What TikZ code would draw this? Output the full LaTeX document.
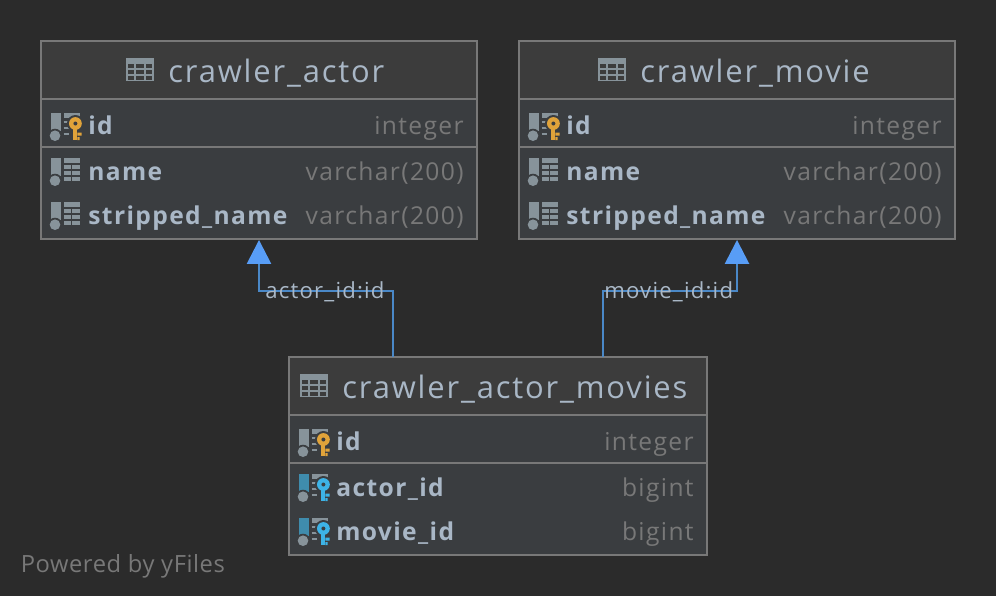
\documentclass[tikz,border=0pt]{standalone}
\usepackage{fontspec}
\setmainfont{Open Sans}
\usepackage{xcolor}
\usetikzlibrary{arrows.meta}
\definecolor{canvasbg}{HTML}{2B2B2B}
\definecolor{headfill}{HTML}{3C3C3C}
\definecolor{rowfill}{HTML}{3A3D40}
\definecolor{edgegray}{HTML}{787878}
\definecolor{textblue}{HTML}{A9B7C6}
\definecolor{typegray}{HTML}{787878}
\definecolor{icongray}{HTML}{87939A}
\definecolor{barblue}{HTML}{3F8CAD}
\definecolor{keyorange}{HTML}{E0A33A}
\definecolor{keycyan}{HTML}{3DB3E6}
\definecolor{linkblue}{HTML}{4A88C7}
\definecolor{tipblue}{HTML}{589DF6}
\tikzset{
    tablebox/.style = {draw = edgegray, fill = rowfill, line width = 1.1pt, minimum height = 3.96cm, inner sep = 0pt},
    rule/.style = {draw = edgegray, line width = 1.1pt},
    titletext/.style = {text = textblue, font = \fontsize{17.6}{20}\selectfont\addfontfeature{LetterSpace = 6}, anchor = base west, inner sep = 0pt},
    nametext/.style = {text = textblue, font = \bfseries\fontsize{14}{16}\selectfont\addfontfeature{LetterSpace = 5.6}, anchor = base west, inner sep = 0pt},
    typetext/.style = {text = typegray, font = \fontsize{14}{16}\selectfont\addfontfeature{LetterSpace = 5.6}, anchor = base east, inner sep = 0pt},
    linktext/.style = {text = textblue, font = \fontsize{12.6}{15}\selectfont\addfontfeature{LetterSpace = 5.4}, anchor = base west, inner sep = 0pt},
    credittext/.style = {text = typegray, font = \fontsize{13.5}{16}\selectfont\addfontfeature{LetterSpace = 2.4}, anchor = base west, inner sep = 0pt},
    fkline/.style = {draw = linkblue, line width = 1.5pt, -{Triangle[length = 13.6pt, width = 13.6pt, color = tipblue]}},
    pics/headicon/.style = {code = {
        \fill[icongray] (0,0) rectangle (28,23);
        \foreach \cx/\cw in {2/6, 10.3/7.7, 20/6.3}
            \foreach \cy/\ch in {6.3/3.4, 12/3.7, 18/3.7}
                \fill[headfill] (\cx,\cy) rectangle ++(\cw,\ch);
    }},
    pics/colicon/.style = {code = {
        \fill[#1] (-0.7,0) rectangle (9,18);
        \fill[rowfill] (3,22.7) circle (7);
        \fill[icongray] (3,22.7) circle (5.3);
        \fill[icongray] (11.7,0) rectangle (27.5,23);
        \draw[rowfill, line width = 0.85pt] (11.7,6) -- (27.5,6) (11.7,12) -- (27.5,12) (11.7,18) -- (27.5,18);
        \draw[rowfill, line width = 0.85pt] (19.5,6) -- (19.5,23);
    }},
    pics/keyicon/.style 2 args = {code = {
        \fill[#1] (-0.7,0) rectangle (9,18);
        \fill[rowfill] (3,22.7) circle (7);
        \fill[icongray] (3,22.7) circle (5.3);
        \fill[icongray] (11.7,0) rectangle (27.5,5);
        \draw[icongray, line width = 0.85pt] (11.7,9) -- (17,9) (11.7,15) -- (17,15) (11.7,21) -- (17,21);
        \fill[rowfill] (23.4,10.5) circle (8.5);
        \fill[rowfill] (19.5,14) rectangle (31,28);
        \fill[#2] (23.4,10.5) circle (6.4);
        \fill[#2] (21.4,14) rectangle (25.4,27);
        \fill[#2] (25.4,19.5) rectangle (29.7,22.5) (25.4,24) rectangle (27.7,27);
        \fill[rowfill] (23.4,10.5) circle (2);
    }}
}
\begin{document}
\begin{tikzpicture}[x = 0.02cm, y = -0.02cm]
        \useasboundingbox (0,0) rectangle (996,596);
        \fill[canvasbg] (0,0) rectangle (996,596);

        % crawler_actor
        \node[tablebox, minimum width = 8.72cm] (actor) at (259,140) {};
        \fill[headfill] (42,42) rectangle (476,99);
        \draw[rule] (41,99) -- (477,99);
        \draw[rule] (41,147) -- (477,147);
        \pic at (126,58) {headicon};
        \node[titletext] (actortitle) at (168,82) {crawler\_actor};
        \pic at (52,113) {keyicon = {icongray}{keyorange}};
        \node[nametext] (actorid) at (88,134) {id};
        \node[typetext] (actoridtype) at (464,134) {integer};
        \pic at (52,158) {colicon = icongray};
        \node[nametext] (actorname) at (88,180) {name};
        \node[typetext] (actornametype) at (464,180) {varchar(200)};
        \pic at (52,202) {colicon = icongray};
        \node[nametext] (actorstripped) at (88,224) {stripped\_name};
        \node[typetext] (actorstrippedtype) at (464,224) {varchar(200)};

        % crawler_movie
        \node[tablebox, minimum width = 8.72cm] (movie) at (737,140) {};
        \fill[headfill] (520,42) rectangle (954,99);
        \draw[rule] (519,99) -- (955,99);
        \draw[rule] (519,147) -- (955,147);
        \pic at (598,58) {headicon};
        \node[titletext] (movietitle) at (640,82) {crawler\_movie};
        \pic at (530,113) {keyicon = {icongray}{keyorange}};
        \node[nametext] (movieid) at (566,134) {id};
        \node[typetext] (movieidtype) at (942,134) {integer};
        \pic at (530,158) {colicon = icongray};
        \node[nametext] (moviename) at (566,180) {name};
        \node[typetext] (movienametype) at (942,180) {varchar(200)};
        \pic at (530,202) {colicon = icongray};
        \node[nametext] (moviestripped) at (566,224) {stripped\_name};
        \node[typetext] (moviestrippedtype) at (942,224) {varchar(200)};

        % crawler_actor_movies
        \node[tablebox, minimum width = 8.36cm] (link) at (498,456) {};
        \fill[headfill] (290,358) rectangle (706,414);
        \draw[rule] (289,415) -- (707,415);
        \draw[rule] (289,463) -- (707,463);
        \pic at (300,374) {headicon};
        \node[titletext] (linktitle) at (342,398) {crawler\_actor\_movies};
        \pic at (300,429) {keyicon = {icongray}{keyorange}};
        \node[nametext] (linkid) at (336,450) {id};
        \node[typetext] (linkidtype) at (694,450) {integer};
        \pic at (300,474) {keyicon = {barblue}{keycyan}};
        \node[nametext] (linkactor) at (336,496) {actor\_id};
        \node[typetext] (linkactortype) at (694,496) {bigint};
        \pic at (300,518) {keyicon = {barblue}{keycyan}};
        \node[nametext] (linkmovie) at (336,540) {movie\_id};
        \node[typetext] (linkmovietype) at (694,540) {bigint};

        % Connectors
        \coordinate (actorfoot) at (393,357);
        \coordinate (actorbend) at (259,291);
        \coordinate (moviefoot) at (603,357);
        \coordinate (moviebend) at (737,291);
        \draw[fkline] (actorfoot) |- (actorbend) -- (actor.south);
        \draw[fkline] (moviefoot) |- (moviebend) -- (movie.south);
        \node[linktext] (actorlabel) at (265,298) {actor\_id:id};
        \node[linktext] (movielabel) at (604,298) {movie\_id:id};

        \node[credittext] (credit) at (20.5,572) {Powered by yFiles};
    \end{tikzpicture}
\end{document}
